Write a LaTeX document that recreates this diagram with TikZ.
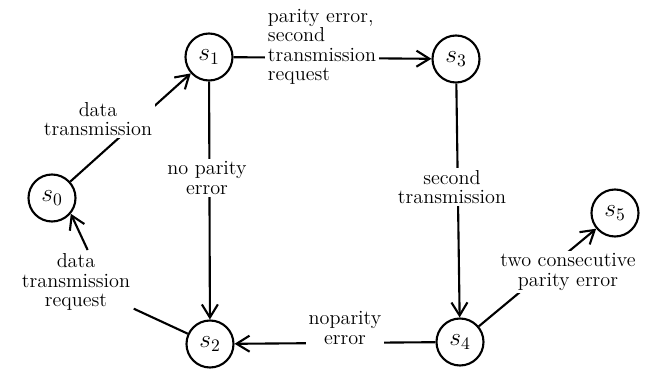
\documentclass[tikz,border=0pt]{standalone}
\usepackage{amsmath,amssymb}
\usepackage{xcolor}
\usepackage{tikz}
\usetikzlibrary{arrows.meta}
\tikzstyle{state}=[circle,draw,line width=1.2pt,minimum size=9.4mm,inner sep=0pt,font=\Large]

\begin{document}
\begin{tikzpicture}[line width=1.2pt,>={Straight Barb[length=2.6mm,width=3.2mm]}]
					\tikzstyle{lab}=[fill=white,align=center,inner sep=1.5pt,font=\fontsize{11.5}{11}\selectfont]
					\useasboundingbox (0,0) rectangle (12.9,7.48);
					% states
					\node [state] (s0) at (1.04,3.52) {$s_0$};
					\node [state] (s1) at (4.18,6.34) {$s_1$};
					\node [state] (s2) at (4.2,0.6) {$s_2$};
					\node [state] (s3) at (9.12,6.3) {$s_3$};
					\node [state] (s4) at (9.2,0.64) {$s_4$};
					\node [state] (s5) at (12.3,3.22) {$s_5$};
					% transitions
					\draw [->] (s0) -- (s1);
					\draw [->] (s1) -- (s3);
					\draw [->] (s1) -- (s2);
					\draw [->] (s3) -- (s4);
					\draw [->] (s4) -- (s5);
					\draw [->] (s4) -- (s2);
					% labels
					\node [lab] (l01) at (1.96,5.1) {data\\transmission};
					\node [lab,align=left] (l13) at (6.44,6.54) {parity error,\\second\\transmission\\request};
					\node [lab] (l12) at (4.14,3.92) {no parity\\error};
					\node [lab] (l34) at (9.04,3.74) {second\\transmission};
					\node [lab] (l45) at (11.36,2.04) {two consecutive\\parity error};
					\node [lab] (l42) at (6.9,0.92) {noparity\\error};
					\node [lab] (l20) at (1.52,1.84) {data\\transmission\\request};
					\draw (s2) -- (l20);
					\draw [->] (l20.70) -- (s0.-40);
\end{tikzpicture}
\end{document}
